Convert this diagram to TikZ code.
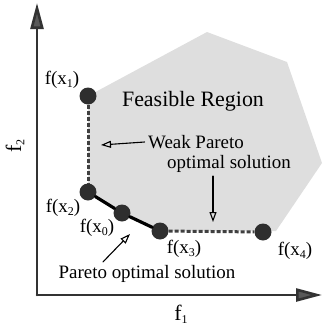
\documentclass[tikz,border=0pt]{standalone}
\usepackage{fontspec}
\setmainfont{Liberation Serif}
\usetikzlibrary{arrows.meta}

\newcommand{\sub}[1]{\raisebox{-0.15em}{\fontsize{12}{12}\selectfont #1}}

\tikzset{
	pt/.style={circle, fill=black!82, minimum size=17bp, inner sep=0pt},
	weak/.style={line width=3bp, black!75, dash pattern=on 4bp off 2bp, line cap=butt},
	pointer/.style={line width=1.1bp, -{Triangle[open, length=10bp, width=7bp]}},
	axis/.style={line width=2.6bp, black!80, -{Triangle[length=26bp, width=13bp, fill=black!65]}}
}

\begin{document}
\begin{tikzpicture}[x=1bp, y=-1bp, line join=round, line cap=round, font=\fontsize{19}{21}\selectfont]
	\useasboundingbox (0,0) rectangle (323,327);

	% feasible region
	\fill[black!13] (88,96) -- (207,32) -- (287,62) -- (322,163) -- (276,231) -- (160,231) -- (88,192) -- cycle;

	% axes
	\coordinate (O) at (37,295);
	\coordinate (ytip) at (37,3);
	\coordinate (xtip) at (322,295);
	\draw[axis] (O) -- (ytip);
	\draw[axis] (O) -- (xtip);
	\node[font=\fontsize{22}{24}\selectfont] (f1) at (181,314) {f\sub{1}};
	\node[font=\fontsize{22}{24}\selectfont, rotate=90] (f2) at (15,146) {f\sub{2}};

	% solutions
	\node[pt] (x1) at (88,96) {};
	\node[pt] (x2) at (88,192) {};
	\node[pt] (x0) at (122,213) {};
	\node[pt] (x3) at (160,231) {};
	\node[pt] (x4) at (263,232) {};
	\draw[weak] (x1) -- (x2);
	\draw[weak] (x3) -- (x4);
	\draw[line width=3.2bp] (x2) -- (x0) -- (x3);

	\node (lx1) at (62,80) {f(x\sub{1})};
	\node (lx2) at (63,208) {f(x\sub{2})};
	\node (lx0) at (97,228) {f(x\sub{0})};
	\node (lx3) at (184,249) {f(x\sub{3})};
	\node (lx4) at (295,251) {f(x\sub{4})};

	% labels
	\node[font=\fontsize{22}{24}\selectfont] (feas) at (193,101) {Feasible Region};
	\node (wp) at (196,142) {Weak Pareto};
	\node (os) at (229,164) {optimal solution};
	\node (pos) at (147,274) {Pareto optimal solution};

	\coordinate (wend) at (101,145);
	\coordinate (oend) at (213,222);
	\coordinate (pend) at (130,234);
	\draw[pointer] (wp.west) -- (wend);
	\draw[pointer] (oend |- os.south) -- (oend);
	\draw[pointer] ([xshift=-44bp]pos.north) -- (pend);
\end{tikzpicture}
\end{document}
